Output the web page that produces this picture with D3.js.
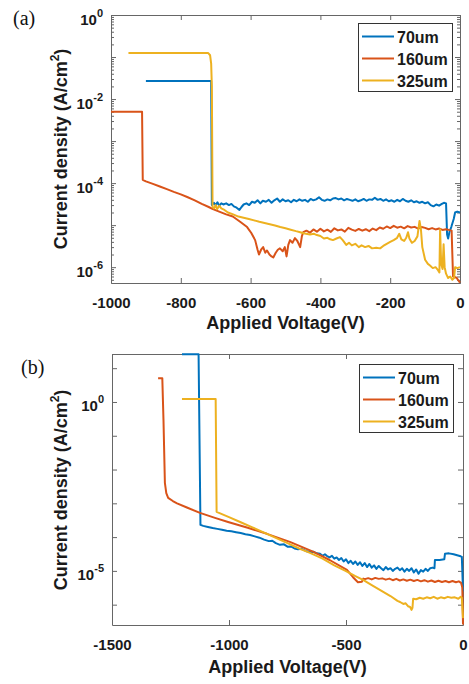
<!DOCTYPE html>
<html>
<head>
<meta charset="utf-8">
<script src="https://cdn.jsdelivr.net/npm/d3@7"></script>
<style>
  body { margin: 0; background: #fff; }
</style>
</head>
<body>
<script>
// chart values
const names = ['70um', '160um', '325um'];
const colors = ['#0072BD', '#D95319', '#EDB120'];

const xTicksA = [-1000, -800, -600, -400, -200, 0];
const yLabelExpA = [0, -2, -4, -6];
const xTicksB = [-1500, -1000, -500, 0];
const yLabelExpB = [0, -5];

// panel (a): [voltage V, current density A/cm2]
const a70 = [[-900, 2.7e-2], [-713, 2.7e-2], [-711, 3.0e-5], [-705, 3.4e-5], [-700, 3.0e-5], [-695, 3.5e-5],
  [-690, 2.9e-5], [-684, 3.3e-5], [-678, 3.1e-5], [-670, 3.3e-5], [-662, 3.0e-5], [-655, 3.2e-5], [-648, 2.8e-5],
  [-640, 2.6e-5], [-632, 2.3e-5], [-626, 2.7e-5], [-620, 3.1e-5], [-612, 3.3e-5], [-604, 3.0e-5], [-596, 3.6e-5],
  [-588, 3.4e-5], [-580, 3.9e-5], [-572, 3.3e-5], [-565, 3.8e-5], [-556, 3.6e-5], [-548, 4.0e-5], [-540, 3.4e-5],
  [-532, 3.9e-5], [-524, 4.3e-5], [-516, 3.6e-5], [-508, 4.1e-5], [-500, 3.7e-5], [-492, 3.9e-5], [-484, 3.5e-5],
  [-476, 4.0e-5], [-468, 3.7e-5], [-460, 4.1e-5], [-452, 3.8e-5], [-444, 4.0e-5], [-436, 3.6e-5], [-428, 4.2e-5],
  [-420, 3.9e-5], [-412, 4.1e-5], [-404, 4.6e-5], [-396, 4.0e-5], [-388, 3.8e-5], [-380, 4.1e-5], [-372, 3.9e-5],
  [-364, 4.3e-5], [-356, 4.4e-5], [-348, 4.1e-5], [-340, 4.3e-5], [-332, 3.9e-5], [-324, 4.2e-5], [-316, 4.0e-5],
  [-308, 3.8e-5], [-300, 4.1e-5], [-292, 3.7e-5], [-284, 3.9e-5], [-276, 4.2e-5], [-268, 3.8e-5], [-260, 4.1e-5],
  [-252, 4.0e-5], [-244, 4.5e-5], [-236, 4.0e-5], [-228, 4.2e-5], [-220, 3.8e-5], [-212, 4.1e-5], [-204, 3.7e-5],
  [-196, 3.9e-5], [-188, 3.6e-5], [-180, 4.0e-5], [-172, 3.7e-5], [-164, 4.2e-5], [-156, 3.8e-5], [-148, 3.6e-5],
  [-140, 3.9e-5], [-132, 3.5e-5], [-124, 3.7e-5], [-116, 3.4e-5], [-108, 3.6e-5], [-100, 3.3e-5], [-92, 3.5e-5],
  [-84, 3.0e-5], [-76, 2.8e-5], [-68, 3.1e-5], [-60, 2.9e-5], [-52, 3.2e-5], [-46, 3.4e-5], [-40, 3.3e-5],
  [-37, 6.0e-6], [-34, 4.8e-6], [-30, 7.0e-6], [-25, 9.0e-6], [-18, 1.4e-5], [-14, 2.0e-5], [-8, 2.1e-5], [0, 2.0e-5]];

const a160 = [[-1000, 5.0e-3], [-911, 5.0e-3], [-909, 1.2e-4], [-900, 1.1e-4], [-880, 9.6e-5], [-860, 8.3e-5],
  [-840, 7.2e-5], [-820, 6.2e-5], [-800, 5.4e-5], [-780, 4.6e-5], [-760, 3.9e-5], [-740, 3.2e-5], [-720, 2.7e-5],
  [-708, 2.4e-5], [-690, 2.1e-5], [-670, 1.8e-5], [-651, 1.6e-5], [-630, 1.2e-5], [-610, 9.0e-6], [-598, 6.5e-6],
  [-587, 4.4e-6], [-580, 2.6e-6], [-576, 2.0e-6], [-570, 2.6e-6], [-564, 3.0e-6], [-558, 2.2e-6], [-553, 2.5e-6],
  [-546, 2.0e-6], [-540, 1.8e-6], [-535, 1.7e-6], [-528, 2.2e-6], [-522, 2.6e-6], [-516, 2.8e-6], [-508, 2.4e-6],
  [-502, 3.0e-6], [-497, 1.8e-6], [-492, 3.4e-6], [-487, 4.4e-6], [-480, 3.8e-6], [-473, 4.9e-6], [-466, 4.2e-6],
  [-458, 3.0e-6], [-453, 5.5e-6], [-449, 6.8e-6], [-440, 7.4e-6], [-430, 6.6e-6], [-420, 7.9e-6], [-410, 7.0e-6],
  [-400, 8.2e-6], [-390, 7.1e-6], [-380, 7.8e-6], [-370, 6.9e-6], [-360, 8.4e-6], [-350, 7.5e-6], [-340, 7.9e-6],
  [-330, 7.0e-6], [-320, 8.6e-6], [-310, 7.8e-6], [-300, 7.3e-6], [-290, 8.1e-6], [-280, 7.4e-6], [-270, 8.0e-6],
  [-260, 7.2e-6], [-250, 8.3e-6], [-240, 7.6e-6], [-230, 8.8e-6], [-220, 8.2e-6], [-210, 9.3e-6], [-200, 8.5e-6],
  [-190, 9.6e-6], [-180, 8.7e-6], [-170, 9.2e-6], [-160, 8.4e-6], [-150, 9.5e-6], [-140, 8.8e-6], [-130, 9.1e-6],
  [-120, 8.3e-6], [-110, 9.0e-6], [-100, 8.6e-6], [-90, 8.0e-6], [-80, 8.5e-6], [-70, 7.9e-6], [-60, 8.3e-6],
  [-50, 7.7e-6], [-40, 8.0e-6], [-30, 7.6e-6], [-24, 7.4e-6], [-20, 6.0e-7], [-10, 5.6e-7], [0, 4.3e-7]];

const a325 = [[-950, 0.125], [-722, 0.125], [-716, 0.11], [-713, 0.07], [-711, 0.02], [-709, 2.7e-5],
  [-705, 2.5e-5], [-700, 3.0e-5], [-696, 2.4e-5], [-690, 2.9e-5], [-684, 2.5e-5], [-675, 2.3e-5], [-665, 2.0e-5],
  [-650, 1.8e-5], [-635, 1.6e-5], [-620, 1.5e-5], [-605, 1.4e-5], [-590, 1.3e-5], [-575, 1.2e-5], [-560, 1.12e-5],
  [-545, 1.05e-5], [-530, 9.8e-6], [-515, 9.0e-6], [-500, 8.4e-6], [-485, 7.8e-6], [-470, 7.2e-6], [-458, 6.8e-6],
  [-445, 6.3e-6], [-430, 6.0e-6], [-418, 6.2e-6], [-410, 5.8e-6], [-400, 5.5e-6], [-390, 4.8e-6], [-380, 5.0e-6],
  [-372, 4.6e-6], [-364, 4.4e-6], [-354, 4.8e-6], [-344, 5.2e-6], [-336, 4.4e-6], [-326, 3.4e-6], [-318, 3.8e-6],
  [-310, 3.3e-6], [-300, 3.6e-6], [-290, 3.0e-6], [-282, 3.3e-6], [-272, 3.0e-6], [-262, 3.2e-6], [-252, 2.8e-6],
  [-240, 2.9e-6], [-229, 2.8e-6], [-220, 3.2e-6], [-210, 3.6e-6], [-200, 4.0e-6], [-190, 4.4e-6], [-181, 4.9e-6],
  [-174, 6.2e-6], [-168, 4.6e-6], [-160, 4.2e-6], [-154, 5.0e-6], [-149, 6.8e-6], [-145, 4.8e-6], [-138, 3.8e-6],
  [-130, 4.2e-6], [-122, 5.4e-6], [-116, 1.26e-5], [-112, 8.0e-6], [-108, 3.0e-6], [-100, 1.5e-6], [-92, 1.2e-6],
  [-86, 1.1e-6], [-78, 9.5e-7], [-70, 1.0e-6], [-63, 8.5e-7], [-59, 7.5e-7], [-57, 8.0e-6], [-54, 1.2e-6],
  [-50, 9.0e-7], [-47, 3.5e-6], [-44, 1.0e-6], [-40, 7.0e-7], [-34, 5.5e-7], [-28, 6.0e-7], [-22, 5.0e-7],
  [-17, 5.5e-7], [-14, 1.0e-6], [-8, 9.5e-7], [0, 1.0e-6]];

// panel (b)
const b70 = [[-1201, 26], [-1130, 26], [-1122, 2.3e-4], [-1110, 2.15e-4], [-1090, 2.0e-4], [-1070, 1.85e-4],
  [-1050, 1.75e-4], [-1030, 1.65e-4], [-1010, 1.55e-4], [-990, 1.48e-4], [-970, 1.4e-4], [-950, 1.32e-4],
  [-930, 1.22e-4], [-910, 1.15e-4], [-890, 1.05e-4], [-870, 9.6e-5], [-850, 8.4e-5], [-830, 7.6e-5], [-815, 7.8e-5],
  [-800, 6.6e-5], [-782, 5.9e-5], [-765, 6.1e-5], [-750, 5.2e-5], [-735, 5.3e-5], [-720, 4.6e-5], [-705, 4.4e-5],
  [-690, 4.5e-5], [-672, 3.9e-5], [-654, 3.6e-5], [-640, 3.7e-5], [-625, 3.3e-5], [-611, 3.2e-5], [-600, 2.8e-5],
  [-590, 3.1e-5], [-581, 2.75e-5], [-570, 2.5e-5], [-560, 2.8e-5], [-550, 2.3e-5], [-540, 2.5e-5], [-530, 2.1e-5],
  [-520, 2.4e-5], [-510, 1.9e-5], [-500, 2.2e-5], [-490, 1.7e-5], [-480, 2.0e-5], [-470, 1.6e-5], [-460, 1.9e-5],
  [-450, 1.5e-5], [-440, 1.8e-5], [-430, 1.4e-5], [-420, 1.7e-5], [-410, 1.3e-5], [-400, 1.6e-5], [-390, 1.25e-5],
  [-380, 1.45e-5], [-370, 1.15e-5], [-360, 1.4e-5], [-350, 1.2e-5], [-340, 1.05e-5], [-330, 1.3e-5], [-320, 1.1e-5],
  [-310, 1.2e-5], [-300, 1.0e-5], [-290, 1.15e-5], [-280, 1.25e-5], [-270, 1.05e-5], [-260, 1.2e-5], [-250, 9.5e-6],
  [-240, 1.15e-5], [-230, 1.0e-5], [-220, 1.2e-5], [-210, 9.0e-6], [-200, 1.1e-5], [-190, 8.2e-6], [-180, 1.05e-5],
  [-170, 9.5e-6], [-160, 1.15e-5], [-150, 1.0e-5], [-140, 1.2e-5], [-130, 1.25e-5], [-122, 1.2e-5], [-120, 2.1e-5],
  [-100, 2.1e-5], [-80, 2.2e-5], [-77, 3.2e-5], [-60, 3.3e-5], [-40, 3.1e-5], [-25, 2.9e-5], [-10, 2.7e-5],
  [-5, 2.6e-5], [0, 2.5e-6]];

const b160 = [[-1303, 5.0], [-1285, 5.0], [-1280, 0.3], [-1274, 4.0e-3], [-1268, 2.0e-3], [-1260, 1.45e-3],
  [-1240, 1.17e-3], [-1222, 1.0e-3], [-1180, 7.5e-4], [-1124, 5.2e-4], [-1060, 3.7e-4], [-1004, 2.8e-4],
  [-920, 1.9e-4], [-838, 1.25e-4], [-740, 7.2e-5], [-641, 3.7e-5], [-570, 2.1e-5], [-496, 1.07e-5], [-470, 6.5e-6],
  [-449, 4.6e-6], [-432, 4.8e-6], [-426, 5.9e-6], [-419, 5.7e-6], [-405, 6.1e-6], [-390, 5.6e-6], [-375, 6.2e-6],
  [-360, 5.8e-6], [-345, 6.0e-6], [-330, 5.5e-6], [-315, 5.9e-6], [-300, 5.3e-6], [-285, 5.8e-6], [-270, 5.2e-6],
  [-255, 5.6e-6], [-240, 5.1e-6], [-225, 5.5e-6], [-210, 5.0e-6], [-195, 5.4e-6], [-180, 4.9e-6], [-165, 5.3e-6],
  [-150, 4.8e-6], [-135, 5.2e-6], [-120, 4.7e-6], [-105, 5.1e-6], [-90, 4.7e-6], [-75, 5.0e-6], [-60, 4.6e-6],
  [-45, 5.0e-6], [-30, 4.6e-6], [-18, 4.9e-6], [-8, 4.4e-6], [-3, 3.2e-6], [0, 2.6e-7]];

const b325 = [[-1201, 1.23], [-1057, 1.23], [-1053, 5.6e-4], [-1000, 3.9e-4], [-950, 2.75e-4], [-900, 1.95e-4],
  [-850, 1.35e-4], [-800, 9.5e-5], [-750, 6.6e-5], [-700, 4.6e-5], [-654, 3.4e-5], [-600, 2.3e-5], [-550, 1.45e-5],
  [-500, 9.8e-6], [-460, 7.0e-6], [-427, 5.4e-6], [-390, 3.8e-6], [-350, 2.6e-6], [-310, 1.8e-6], [-280, 1.3e-6],
  [-269, 1.2e-6], [-255, 1.05e-6], [-245, 1.1e-6], [-235, 9.0e-7], [-226, 8.5e-7], [-220, 7.0e-7], [-216, 8.0e-7],
  [-213, 1.5e-6], [-200, 1.45e-6], [-185, 1.6e-6], [-170, 1.5e-6], [-155, 1.65e-6], [-140, 1.55e-6], [-125, 1.7e-6],
  [-110, 1.5e-6], [-95, 1.65e-6], [-80, 1.55e-6], [-65, 1.7e-6], [-50, 1.6e-6], [-35, 1.65e-6], [-20, 1.5e-6],
  [-10, 1.7e-6], [-5, 1.6e-6], [0, 4.0e-7]];

const w = 469;
const h = 684;
const font = '"Liberation Sans", Arial, sans-serif';
const axisColor = '#666';

let svg = d3.select('body').append('svg').attr('width', w).attr('height', h)
  .style('font-family', font);

function drawPanel(p) {
  let x = d3.scaleLinear().domain(p.xDomain).range([p.left, p.right]);
  let y = d3.scaleLog().domain(p.yDomain).range([p.bottom, p.top]);

  let lo = Math.ceil(Math.log10(p.yDomain[0]));
  let hi = Math.floor(Math.log10(p.yDomain[1]));
  let decades = d3.range(lo, hi + 1).map((e) => Math.pow(10, e));
  let minors = [];
  if (p.minor) {
    d3.range(lo - 1, hi + 1).forEach((e) => {
      d3.range(2, 10).forEach((k) => minors.push(k * Math.pow(10, e)));
    });
    minors = minors.filter((v) => v > p.yDomain[0] && v < p.yDomain[1]);
  }

  let g = svg.append('g');

  // axes box and inward ticks
  g.append('g').attr('transform', `translate(0,${p.bottom})`)
    .call(d3.axisBottom(x).tickValues(p.xTicks).tickSize(-5).tickSizeOuter(0)
      .tickPadding(14).tickFormat((d) => String(d)));
  g.append('g').attr('transform', `translate(0,${p.top})`)
    .call(d3.axisTop(x).tickValues(p.xTicks).tickSize(-5).tickSizeOuter(0).tickFormat(''));
  g.append('g').attr('transform', `translate(${p.left},0)`)
    .call(d3.axisLeft(y).tickValues(decades).tickSize(-5).tickSizeOuter(0).tickFormat(''));
  g.append('g').attr('transform', `translate(${p.right},0)`)
    .call(d3.axisRight(y).tickValues(decades).tickSize(-5).tickSizeOuter(0).tickFormat(''));
  if (p.minor) {
    g.append('g').attr('transform', `translate(${p.left},0)`)
      .call(d3.axisLeft(y).tickValues(minors).tickSize(-3).tickSizeOuter(0).tickFormat(''));
    g.append('g').attr('transform', `translate(${p.right},0)`)
      .call(d3.axisRight(y).tickValues(minors).tickSize(-3).tickSizeOuter(0).tickFormat(''));
  }
  g.selectAll('.domain, .tick line').attr('stroke', axisColor);
  g.selectAll('.tick text').attr('fill', '#1a1a1a')
    .attr('font-size', 15).attr('font-weight', 'bold').attr('font-family', font);

  // y tick labels 10^n
  p.yLabels.forEach((e) => {
    let t = g.append('text')
      .attr('x', p.left - 8)
      .attr('y', y(Math.pow(10, e)) + 9.5)
      .attr('text-anchor', 'end')
      .attr('font-weight', 'bold')
      .attr('fill', '#1a1a1a');
    t.append('tspan').attr('font-size', 15).text('10');
    t.append('tspan').attr('font-size', 11).attr('dy', -8).text(String(e));
  });

  // data lines
  svg.append('clipPath').attr('id', 'clip-' + p.id)
    .append('rect')
    .attr('x', p.left).attr('y', p.top - 1.5)
    .attr('width', p.right - p.left + 1).attr('height', p.bottom - p.top + 2);

  let line = d3.line().x((d) => x(d[0])).y((d) => y(d[1]));
  p.series.forEach((s, i) => {
    svg.append('path')
      .datum(s)
      .attr('d', line)
      .attr('fill', 'none')
      .attr('stroke', colors[i])
      .attr('stroke-width', 2)
      .attr('stroke-linejoin', 'round')
      .attr('clip-path', `url(#clip-${p.id})`);
  });

  // axis titles
  svg.append('text')
    .attr('x', (p.left + p.right) / 2)
    .attr('y', p.xTitleY)
    .attr('text-anchor', 'middle')
    .attr('font-size', 18).attr('font-weight', 'bold').attr('fill', '#1a1a1a')
    .text('Applied Voltage(V)');

  let yt = svg.append('text')
    .attr('transform', `translate(67,${p.yTitleY}) rotate(-90)`)
    .attr('text-anchor', 'middle')
    .attr('font-size', 18).attr('font-weight', 'bold').attr('fill', '#1a1a1a');
  yt.append('tspan').text('Current density (A/cm');
  yt.append('tspan').attr('font-size', 12).attr('dy', -8).text('2');
  yt.append('tspan').attr('dy', 8).text(')');

  // panel letter
  svg.append('text')
    .attr('x', p.letterX).attr('y', p.letterY)
    .attr('font-family', '"Liberation Serif", "Times New Roman", serif')
    .attr('font-size', 20).attr('fill', '#111')
    .text(p.letter);

  // legend
  let lg = svg.append('g').attr('transform', `translate(${p.legendX},${p.legendY})`);
  lg.append('rect').attr('width', 94).attr('height', 68)
    .attr('fill', '#fff').attr('stroke', '#333').attr('stroke-width', 1)
    .attr('x', 0.5).attr('y', 0.5);
  names.forEach((n, i) => {
    let cy = 13.5 + i * 22;
    lg.append('line').attr('x1', 4).attr('x2', 36).attr('y1', cy).attr('y2', cy)
      .attr('stroke', colors[i]).attr('stroke-width', 2);
    lg.append('text').attr('x', 39).attr('y', cy + 6)
      .attr('font-size', 16).attr('font-weight', 'bold').attr('fill', '#1a1a1a')
      .text(n);
  });
}

drawPanel({
  id: 'a', letter: '(a)', letterX: 13, letterY: 25,
  left: 111, right: 460, top: 15, bottom: 283,
  xDomain: [-1000, 0], yDomain: [4.2e-7, 1],
  xTicks: xTicksA, yLabels: yLabelExpA, minor: true,
  series: [a70, a160, a325],
  xTitleY: 329, yTitleY: 149,
  legendX: 358, legendY: 23
});

drawPanel({
  id: 'b', letter: '(b)', letterX: 21, letterY: 374,
  left: 112, right: 463, top: 354, bottom: 625,
  xDomain: [-1500, 0], yDomain: [2.5e-7, 26.3],
  xTicks: xTicksB, yLabels: yLabelExpB, minor: false,
  series: [b70, b160, b325],
  xTitleY: 673, yTitleY: 490,
  legendX: 359, legendY: 364
});
</script>
</body>
</html>
